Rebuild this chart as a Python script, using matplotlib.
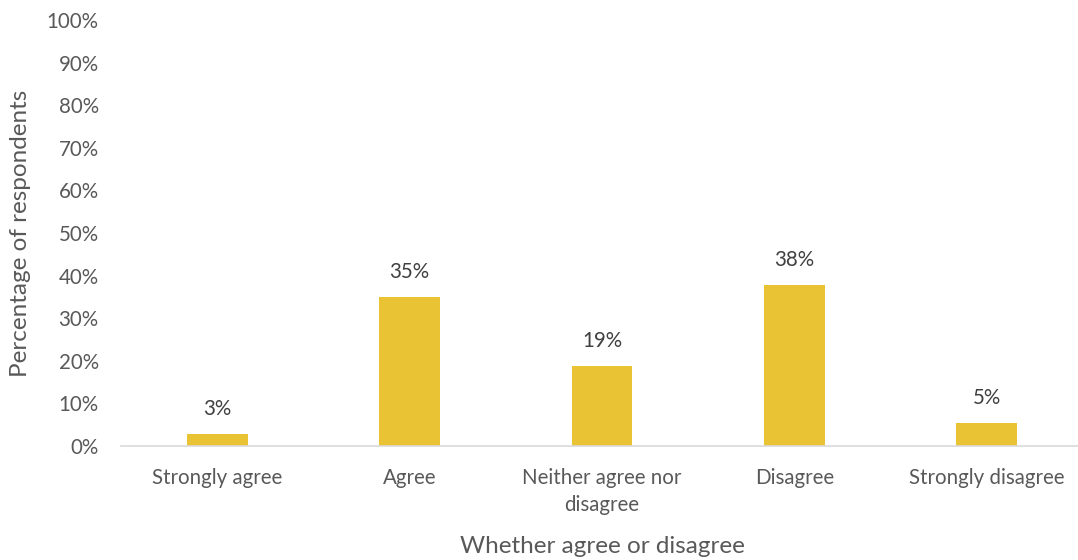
import matplotlib.pyplot as plt
from matplotlib.ticker import FuncFormatter

categories = ["Strongly agree", "Agree", "Neither agree nor\ndisagree", "Disagree", "Strongly disagree"]
percentages = [2.7, 35.0, 18.8, 37.7, 5.3]

bar_colour = "#EAC335"
text_colour = "#595959"

plt.rcParams["font.family"] = ["Lato", "DejaVu Sans"]

fig = plt.figure(figsize=(10.78, 5.6), dpi=100)
ax = fig.add_axes([121 / 1078, 114 / 560, 962 / 1078, 426 / 560])

x = range(len(categories))
bars = ax.bar(x, percentages, width=0.315, color=bar_colour)

for rect, val in zip(bars, percentages):
    ax.annotate(f"{val:.0f}%", (rect.get_x() + rect.get_width() / 2, val),
                xytext=(0, 18), textcoords="offset points", ha="center", va="center",
                fontsize=14.8, color="#404040")

ax.set_xlim(-0.5, len(categories) - 0.5)
ax.set_ylim(0, 100)
ax.set_yticks(range(0, 101, 10))
ax.yaxis.set_major_formatter(FuncFormatter(lambda v, _: f"{v:.0f}%"))
ax.set_xticks(list(x))
ax.set_xticklabels(categories, linespacing=1.45)

ax.tick_params(axis="both", length=0, labelsize=14.8, labelcolor=text_colour)
ax.tick_params(axis="x", pad=16)
ax.tick_params(axis="y", pad=16)

for side in ["top", "right", "left"]:
    ax.spines[side].set_visible(False)
ax.spines["bottom"].set_color("#D9D9D9")
ax.spines["bottom"].set_linewidth(1.2)

ax.set_xlabel("Whether agree or disagree", fontsize=17.5, color=text_colour, labelpad=15)
ax.set_ylabel("Percentage of respondents", fontsize=17.5, color=text_colour, labelpad=11)

fig.savefig("out.png", dpi=100)
